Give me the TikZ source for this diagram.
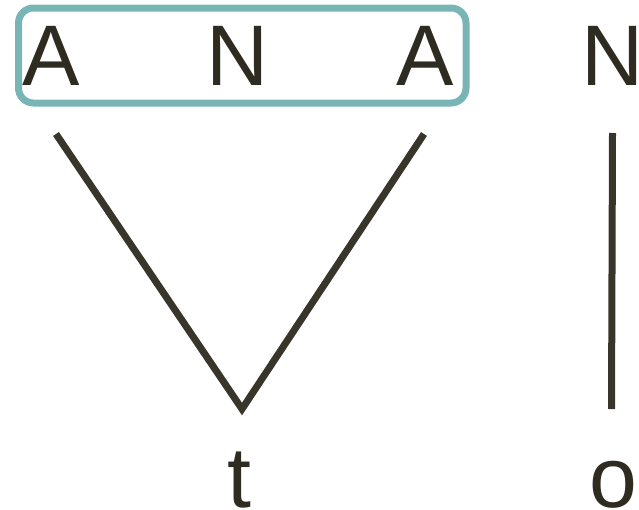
\documentclass[tikz,border=0pt]{standalone}
\usepackage{fontspec}
\setmainfont{Liberation Sans}
\definecolor{ink}{HTML}{2E2B20}
\definecolor{linec}{HTML}{38352B}
\definecolor{teal}{HTML}{7AB5B5}
\begin{document}
\begin{tikzpicture}[x=1pt,y=-1pt,
  letter/.style={inner sep=0pt, anchor=base, text=ink, font=\fontsize{86}{90}\selectfont},
  link/.style={draw=linec, line width=7pt},
  frame/.style={draw=teal, line width=7pt, rounded corners=15pt}]
\useasboundingbox (0,0) rectangle (639,509);
\draw[frame] (18.5,8) rectangle (466,103);
\node[letter] (A1) at (51.5,85) {A};
\node[letter] (N1) at (238,85) {N};
\node[letter] (A2) at (425,85) {A};
\node[letter] (N2) at (613,85) {N};
\node[letter] (t) at (239,507) {t};
\node[letter] (o) at (613.5,507) {o};
\coordinate (a1) at (56,134);
\coordinate (a2) at (424,134);
\coordinate (n2) at (612.5,133);
\coordinate (vt) at (242,409);
\coordinate (vo) at (611.5,409);
\draw[link] (a1) -- (vt) -- (a2);
\draw[link] (n2) -- (vo);
\end{tikzpicture}
\end{document}
